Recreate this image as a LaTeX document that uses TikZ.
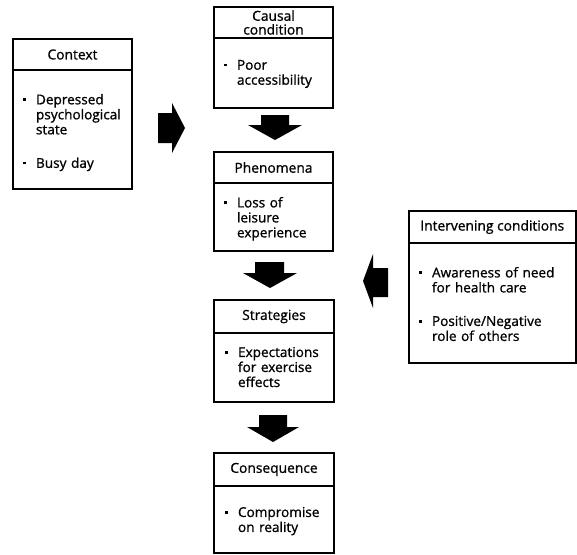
\documentclass[tikz,border=0pt]{standalone}
\usepackage{fontspec}
\setmainfont{Open Sans}[FakeBold=1]
\newdimen\px \px=0.75pt
\newcommand\bitem[1]{\hangindent=14\px\hangafter=1\noindent\makebox[14\px][l]{\hspace{1\px}\raisebox{3.4\px}{\rule{2.6\px}{2.6\px}}}#1\par}
\newcommand\nl{\newline}
\newcommand\bgap{\vspace{18.5\px}}
\begin{document}
\begin{tikzpicture}[x=0.75pt,y=-0.75pt,
  box/.style={draw=black,line width=2\px,rectangle,inner sep=0pt,outer sep=0pt},
  hdr/.style={box,align=center,font=\fontsize{10.35pt}{11.25pt}\selectfont},
  txt/.style={anchor=north west,inner sep=0pt,outer sep=0pt,text width=160\px,font=\fontsize{10.2pt}{11.25pt}\selectfont\raggedright},
  blk/.style={fill=black,draw=none}]
\useasboundingbox (0,0) rectangle (577,554);
% Context
\node[hdr,minimum width=119\px,minimum height=31\px] (ctxh) at (72.5,54.5) {Context};
\node[box,minimum width=119\px,minimum height=119\px] (ctxb) at (72.5,129.5) {};
\node[txt] (ctxt) at (22,94) {\bitem{Depressed\nl psychological\nl state}\bgap\bitem{Busy day}};
% Causal condition
\node[hdr,minimum width=119\px,minimum height=31\px] (cauh) at (273.5,22.5) {Causal\\[-1.2\px]condition};
\node[box,minimum width=119\px,minimum height=70\px] (caub) at (273.5,73) {};
\node[txt] (caut) at (223,60) {\bitem{Poor\nl accessibility}};
% Phenomena
\node[hdr,minimum width=119\px,minimum height=31\px] (phenh) at (273.5,167.5) {Phenomena};
\node[box,minimum width=119\px,minimum height=68\px] (phenb) at (273.5,217) {};
\node[txt] (phent) at (223,197) {\bitem{Loss of\nl leisure\nl experience}};
% Strategies
\node[hdr,minimum width=120\px,minimum height=33\px] (strh) at (274,316.5) {Strategies};
\node[box,minimum width=120\px,minimum height=69\px] (strb) at (274,367.5) {};
\node[txt] (strt) at (224,347) {\bitem{Expectations\nl for exercise\nl effects}};
% Intervening conditions
\node[hdr,minimum width=166.5\px,minimum height=32\px] (inth) at (492.25,227) {Intervening conditions};
\node[box,minimum width=166.5\px,minimum height=120\px] (intb) at (492.25,303) {};
\node[txt] (intt) at (418,267) {\bitem{Awareness of need\nl for health care}\bgap\bitem{Positive/Negative\nl role of others}};
% Consequence
\node[hdr,minimum width=120\px,minimum height=33\px] (conh) at (274,469.5) {Consequence};
\node[box,minimum width=120\px,minimum height=67\px] (conb) at (274,519.5) {};
\node[txt] (cont) at (224,507) {\bitem{Compromise\nl on reality}};
% block arrows
\fill[blk] (158,113) -- (172,113) -- (172,103) -- (185,128) -- (172,153) -- (172,143) -- (158,143) -- cycle;
\fill[blk] (261,115) -- (289,115) -- (289,125) -- (302,125) -- (275,140) -- (248,125) -- (261,125) -- cycle;
\fill[blk] (255,262) -- (284,262) -- (284,273) -- (297,273) -- (270,288) -- (243,273) -- (255,273) -- cycle;
\fill[blk] (259,415) -- (287,415) -- (287,427) -- (299,427) -- (273,442) -- (247,427) -- (259,427) -- cycle;
\fill[blk] (388,268) -- (373,268) -- (373,254) -- (363,281) -- (373,308) -- (373,297) -- (388,297) -- cycle;
\end{tikzpicture}
\end{document}
